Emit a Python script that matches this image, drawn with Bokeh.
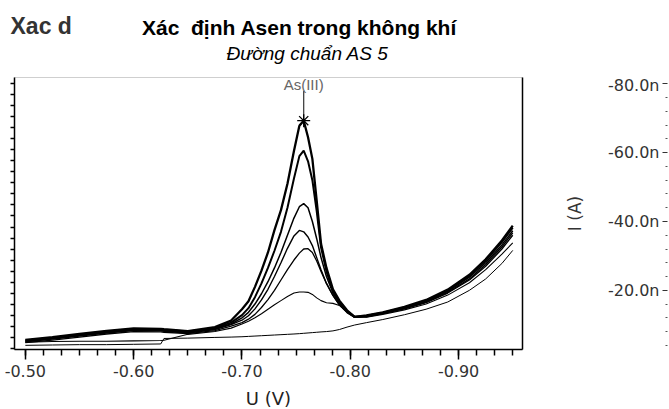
from bokeh.plotting import figure
from bokeh.models import (Range1d, LinearAxis, FixedTicker, SingleIntervalTicker,
                          NumeralTickFormatter, Label)
from bokeh.layouts import row, column
from bokeh.embed import file_html
from bokeh.resources import INLINE

# ---------------- data ----------------
potential_V = [-0.500, -0.525, -0.550, -0.575, -0.600, -0.625, -0.628, -0.650, -0.675, -0.690,
               -0.700, -0.706, -0.712, -0.718, -0.724, -0.730, -0.736, -0.742, -0.748, -0.753,
               -0.757, -0.761, -0.765, -0.769, -0.773, -0.778, -0.784, -0.790, -0.797, -0.804,
               -0.815, -0.830, -0.850, -0.870, -0.890, -0.910, -0.925, -0.940, -0.950]

# currents, nA (cathodic, plotted upward)
i_std6 = [5.6, 6.4, 7.3, 8.2, 8.9, 8.8, 8.7, 8.1, 9.3, 11.2,
          14.5, 16.8, 21.0, 25.7, 31.0, 37.5, 43.3, 51.0, 60.5, 67.8,
          69.3, 64.5, 58.2, 46.0, 33.5, 26.5, 20.3, 17.0, 14.2, 12.3,
          12.7, 13.6, 15.2, 17.2, 20.2, 24.5, 29.0, 34.5, 38.8]
i_std5 = [5.4, 6.2, 7.1, 8.0, 8.7, 8.6, 8.5, 8.0, 9.0, 10.6,
          12.8, 14.8, 18.0, 22.0, 26.5, 31.5, 37.0, 44.0, 52.5, 59.0,
          60.6, 57.5, 52.0, 43.0, 32.5, 25.5, 19.8, 16.6, 14.0, 12.3,
          12.6, 13.5, 15.0, 17.0, 20.0, 24.2, 28.6, 34.0, 38.2]
i_std4 = [5.2, 6.0, 6.9, 7.8, 8.5, 8.4, 8.3, 7.8, 8.8, 10.2,
          12.0, 13.6, 16.0, 19.0, 22.5, 26.5, 31.0, 36.0, 41.0, 44.3,
          45.2, 44.0, 40.0, 35.0, 29.5, 24.0, 19.2, 16.2, 13.8, 12.2,
          12.5, 13.4, 14.9, 16.8, 19.7, 23.8, 28.0, 33.2, 37.3]
i_std3 = [5.0, 5.8, 6.7, 7.6, 8.3, 8.2, 8.1, 7.6, 8.6, 10.0,
          11.3, 12.6, 14.6, 17.2, 20.3, 24.0, 28.0, 32.2, 35.8, 37.4,
          37.0, 35.5, 33.0, 29.5, 26.0, 22.0, 18.5, 15.8, 13.6, 12.2,
          12.4, 13.3, 14.7, 16.6, 19.4, 23.3, 27.5, 32.6, 36.7]
i_std2 = [4.8, 5.5, 6.4, 7.3, 8.0, 7.9, 7.8, 7.4, 8.3, 9.6,
          10.6, 11.6, 13.0, 15.0, 17.3, 20.0, 23.0, 26.0, 28.8, 30.8,
          32.0, 32.1, 31.0, 28.5, 25.5, 22.0, 18.5, 15.7, 13.5, 12.1,
          12.3, 13.2, 14.6, 16.4, 19.2, 23.0, 27.0, 32.0, 36.0]
i_std1 = [4.9, 5.1, 5.2, 5.2, 5.3, 5.4, 5.5, 7.2, 8.0, 9.0,
          10.2, 11.0, 12.0, 13.2, 14.5, 15.8, 17.0, 18.2, 19.2, 19.5,
          19.5, 19.4, 18.8, 17.8, 17.0, 16.4, 16.2, 15.6, 13.8, 12.4,
          12.2, 13.0, 14.3, 16.0, 18.6, 22.2, 26.0, 30.5, 33.8]
i_blank = [4.0, 4.1, 4.2, 4.2, 4.3, 4.4, 6.0, 6.1, 6.3, 6.4,
           6.5, 6.6, 6.7, 6.8, 6.9, 7.0, 7.1, 7.2, 7.3, 7.4,
           7.5, 7.6, 7.7, 7.8, 7.9, 8.0, 8.2, 8.6, 9.3, 9.9,
           10.6, 11.5, 12.9, 14.5, 16.6, 20.0, 23.3, 27.8, 31.6]

curves = [i_blank, i_std1, i_std2, i_std3, i_std4, i_std5, i_std6]
curve_widths = [1.0, 1.1, 1.3, 1.4, 1.5, 2.0, 2.3]

peak_label = "As(III)"
peak_label_level_nA = 78.0

# right (cut-off) panel axis
right_ticks = [-80, -60, -40, -20, 0]
right_tick_labels = ["-80.0n", "-60.0n", "-40.0n", "-20.0n", "0"]

x_tick_step = 0.1
left_tick_step = 3.2
# ----------------------------------------------------------------

FONT = "DejaVu Sans"
ARIAL = "Liberation Sans"
W = 669


def blank_fig(width, height, xr, yr):
    f = figure(width=width, height=height, x_range=Range1d(*xr), y_range=Range1d(*yr),
               x_axis_location=None, y_axis_location=None,
               output_backend="svg", toolbar_location=None,
               min_border_left=0, min_border_right=0, min_border_top=0, min_border_bottom=0,
               background_fill_color="white", border_fill_color="white")
    f.outline_line_color = None
    f.grid.visible = False
    return f


# ---------- header (titles) ----------
HEAD_H = 75
head = blank_fig(W, HEAD_H, (0, W), (0, HEAD_H))
head.add_layout(Label(x=10, y=HEAD_H - 25, text="Xac d",
                      text_font=ARIAL, text_font_size="23px", text_font_style="bold",
                      text_color="#333333", text_align="left", text_baseline="middle"))
head.add_layout(Label(x=299, y=HEAD_H - 27, text="Xác \u00a0định Asen trong không khí",
                      text_font=ARIAL, text_font_size="21px", text_font_style="bold",
                      text_color="black", text_align="center", text_baseline="middle"))
head.add_layout(Label(x=307, y=HEAD_H - 53, text="Đường chuẩn AS 5",
                      text_font=ARIAL, text_font_size="19px", text_font_style="italic",
                      text_color="black", text_align="center", text_baseline="middle"))

# ---------- main voltammogram ----------
P_H = 311
BOTTOM = 37
p = figure(width=524, height=P_H,
           x_range=Range1d(-0.490, -0.959), y_range=Range1d(2.79, 81.86),
           output_backend="svg", toolbar_location=None,
           min_border_left=14, min_border_right=2, min_border_top=2, min_border_bottom=BOTTOM,
           background_fill_color="white", border_fill_color="white")
p.outline_line_color = "#cfcfcf"
p.grid.visible = False

xa = p.xaxis[0]
xa.ticker = SingleIntervalTicker(interval=x_tick_step, num_minor_ticks=6)
xa.formatter = NumeralTickFormatter(format="0.00")
xa.axis_line_color = "black"
xa.axis_line_width = 1.5
xa.major_tick_out = 10
xa.major_tick_in = 0
xa.minor_tick_out = 6
xa.minor_tick_in = 0
xa.major_tick_line_color = "black"
xa.minor_tick_line_color = "black"
xa.major_tick_line_width = 1.5
xa.minor_tick_line_width = 1.5
xa.major_label_text_font = FONT
xa.major_label_text_font_size = "16px"
xa.major_label_text_color = "#333333"
xa.major_label_standoff = 5

ya = p.yaxis[0]
left_minor = [left_tick_step * k for k in range(1, 26)]
ya.ticker = FixedTicker(ticks=[], minor_ticks=left_minor)
ya.axis_line_color = "black"
ya.axis_line_width = 1.5
ya.minor_tick_out = 4
ya.minor_tick_in = 0
ya.minor_tick_line_color = "black"
ya.minor_tick_line_width = 1.5
ya.major_tick_line_color = None

rax = LinearAxis(ticker=FixedTicker(ticks=[]),
                 axis_line_color="black", axis_line_width=1.5,
                 major_tick_line_color=None, minor_tick_line_color=None)
p.add_layout(rax, "right")

for ys, w in zip(curves, curve_widths):
    p.line(potential_V, ys, line_color="black", line_width=w)

ipk = max(range(len(i_std6)), key=lambda k: i_std6[k])
v_pk = potential_V[ipk]
p.segment(x0=[v_pk], y0=[i_std6[ipk]], x1=[v_pk], y1=[peak_label_level_nA],
          line_color="#333333", line_width=1.2)
p.scatter(x=[v_pk], y=[i_std6[ipk]], marker="asterisk", size=13,
          line_color="black", line_width=1.3)
p.add_layout(Label(x=v_pk, y=peak_label_level_nA, text=peak_label,
                   text_font=ARIAL, text_font_size="15px", text_color="#666666",
                   text_align="center", text_baseline="bottom", y_offset=-2))

# ---------- right, cut-off panel: only its axis is visible ----------
# its frame is aligned with the main frame by the row layout (page y 77..349)
p2 = figure(width=W - 524, height=P_H,
            x_range=Range1d(0, 1), y_range=Range1d(-2.79, -81.86),
            output_backend="svg", toolbar_location=None,
            min_border_left=143, min_border_right=0, min_border_top=2,
            min_border_bottom=BOTTOM,
            background_fill_color="white", border_fill_color="white")
p2.outline_line_color = None
p2.grid.visible = False
p2.xaxis.visible = False
ra = p2.yaxis[0]
minor = [t + d for t in right_ticks for d in (-16, -12, -8, -4) if -82 < t + d < 0]
ra.ticker = FixedTicker(ticks=right_ticks, minor_ticks=minor)
ra.major_label_overrides = dict(zip(right_ticks, right_tick_labels))
ra.axis_line_color = None
ra.major_tick_out = 5
ra.major_tick_in = 0
ra.minor_tick_out = 2
ra.minor_tick_in = 0
ra.major_tick_line_color = "#333333"
ra.minor_tick_line_color = "#555555"
ra.major_label_text_font = FONT
ra.major_label_text_font_size = "16px"
ra.major_label_text_color = "#333333"
ra.major_label_standoff = 3
ra.axis_label = "I (A)"
ra.axis_label_text_font = FONT
ra.axis_label_text_font_size = "17px"
ra.axis_label_text_font_style = "normal"
ra.axis_label_text_color = "#333333"
ra.axis_label_standoff = 20

# ---------- footer (x axis title) ----------
FOOT_H = 409 - HEAD_H - P_H
foot = blank_fig(W, FOOT_H, (0, W), (0, FOOT_H))
foot.add_layout(Label(x=268, y=FOOT_H / 2, text="U (V)",
                      text_font=FONT, text_font_size="18px", text_color="#222222",
                      text_align="center", text_baseline="middle"))

layout = column(head, row(p, p2), foot)
open("out.html", "w").write(file_html(layout, INLINE))
